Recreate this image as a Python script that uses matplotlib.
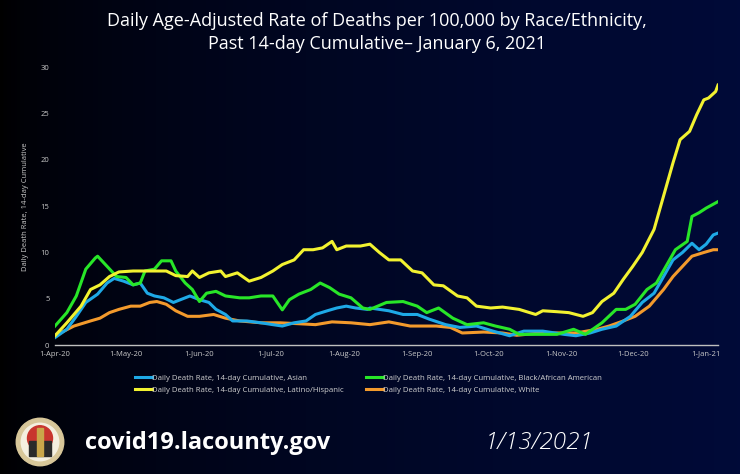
import numpy as np
import pandas as pd
import matplotlib
matplotlib.use("Agg")
import matplotlib.pyplot as plt
import matplotlib.dates as mdates
from matplotlib.patches import Circle, Rectangle

# Days since 1-Apr-2020 and rate values
asian_days = [0, 5, 9, 13, 18, 22, 25, 29, 33, 36, 39, 42, 46, 50, 53, 57, 61, 65, 68, 72, 75, 81, 87,
              92, 96, 101, 106, 110, 115, 119, 123, 127, 132, 133, 141, 147, 153, 158, 165, 171, 178,
              185, 192, 198, 206, 215, 220, 226, 231, 237, 243, 248, 253, 257, 261, 265, 269, 272, 275,
              278, 280]
asian_vals = [0.8, 1.7, 3.1, 4.6, 5.5, 6.7, 7.2, 6.9, 6.5, 6.7, 5.6, 5.3, 5.1, 4.6, 4.9, 5.3, 4.9, 4.6,
              3.85, 3.3, 2.6, 2.6, 2.4, 2.2, 2.05, 2.4, 2.6, 3.3, 3.7, 4.0, 4.2, 4.0, 3.85, 4.0, 3.7, 3.3,
              3.3, 2.8, 2.2, 1.9, 2.05, 1.5, 1.0, 1.5, 1.5, 1.15, 1.0, 1.3, 1.7, 2.05, 3.1, 4.6, 5.6, 7.4,
              9.2, 10.0, 11.0, 10.3, 10.9, 11.9, 12.1]

black_days = [0, 5, 9, 13, 17, 18, 22, 26, 30, 33, 36, 38, 42, 45, 49, 51, 55, 58, 61, 64, 68, 72, 78,
              82, 87, 92, 96, 99, 103, 108, 112, 116, 120, 125, 130, 133, 140, 147, 153, 157, 162, 168,
              174, 181, 186, 192, 196, 203, 212, 219, 224, 231, 237, 241, 245, 250, 254, 258, 262, 267,
              269, 272, 275, 280]
black_vals = [2.05, 3.5, 5.3, 8.2, 9.4, 9.6, 8.5, 7.4, 7.3, 6.5, 6.7, 8.0, 8.2, 9.1, 9.1, 8.0, 6.7, 6.0,
              4.7, 5.6, 5.8, 5.3, 5.1, 5.1, 5.3, 5.3, 3.8, 4.9, 5.5, 6.0, 6.7, 6.2, 5.5, 5.1, 4.0, 3.85,
              4.6, 4.7, 4.2, 3.5, 4.0, 2.9, 2.2, 2.4, 2.05, 1.7, 1.15, 1.15, 1.15, 1.7, 1.15, 2.4, 3.85,
              3.85, 4.4, 6.0, 6.7, 8.5, 10.3, 11.2, 13.9, 14.3, 14.8, 15.5]

latino_days = [0, 5, 11, 15, 19, 23, 27, 33, 40, 47, 51, 56, 58, 61, 65, 70, 72, 77, 82, 87, 92, 96,
               101, 105, 109, 113, 117, 119, 123, 129, 133, 137, 141, 146, 151, 155, 160, 164, 170, 174,
               178, 184, 189, 196, 203, 206, 212, 217, 223, 227, 231, 236, 240, 244, 248, 253, 257, 261,
               264, 268, 271, 274, 276, 279, 280]
latino_vals = [1.0, 2.4, 4.2, 6.0, 6.5, 7.4, 7.9, 8.0, 8.0, 8.0, 7.5, 7.4, 8.0, 7.3, 7.8, 8.0, 7.4,
               7.8, 6.9, 7.3, 8.0, 8.7, 9.2, 10.3, 10.3, 10.5, 11.2, 10.3, 10.7, 10.7, 10.9, 10.0, 9.2,
               9.2, 8.0, 7.8, 6.5, 6.4, 5.3, 5.1, 4.2, 4.0, 4.1, 3.85, 3.3, 3.7, 3.6, 3.5, 3.1, 3.5, 4.7,
               5.6, 7.1, 8.5, 10.0, 12.5, 16.1, 19.7, 22.2, 23.1, 24.9, 26.5, 26.7, 27.4, 28.1]

white_days = [0, 8, 15, 19, 23, 27, 32, 36, 40, 43, 47, 51, 56, 61, 67, 72, 78, 87, 95, 103, 110, 117,
              125, 133, 141, 150, 161, 167, 172, 181, 189, 195, 203, 212, 220, 229, 234, 240, 245, 251,
              257, 261, 265, 269, 274, 278, 280]
white_vals = [1.0, 2.05, 2.6, 2.9, 3.5, 3.85, 4.2, 4.2, 4.6, 4.7, 4.4, 3.7, 3.1, 3.1, 3.3, 2.9, 2.6,
              2.4, 2.4, 2.3, 2.2, 2.5, 2.4, 2.2, 2.5, 2.05, 2.05, 1.9, 1.3, 1.4, 1.3, 1.05, 1.25, 1.3,
              1.3, 1.7, 2.05, 2.6, 3.1, 4.2, 6.0, 7.4, 8.5, 9.6, 10.0, 10.3, 10.3]

labels = ["Daily Death Rate, 14-day Cumulative, Asian",
          "Daily Death Rate, 14-day Cumulative, Black/African American",
          "Daily Death Rate, 14-day Cumulative, Latino/Hispanic",
          "Daily Death Rate, 14-day Cumulative, White"]
colors = ["#1ea9e6", "#28e628", "#f2f230", "#f39a2c"]

start = pd.Timestamp("2020-04-01")

def to_dates(days):
    return start + pd.to_timedelta(days, unit="D")

plt.rcParams['font.family'] = ['Open Sans', 'DejaVu Sans']

fig = plt.figure(figsize=(7.4, 4.74), dpi=100)

# background gradient: black on the left, dark navy on the right
bg = fig.add_axes([0, 0, 1, 1], zorder=-10)
grad = np.linspace(0, 1, 256) ** 0.6
navy = np.array([0.0, 0.04, 0.22])
img = grad[None, :, None] * navy[None, None, :]
bg.imshow(img, aspect="auto", extent=[0, 1, 0, 1])
bg.axis("off")

ax = fig.add_axes([55 / 740, 129 / 474, 663 / 740, 277.5 / 474])
ax.set_facecolor("none")

series = [(asian_days, asian_vals), (black_days, black_vals),
          (latino_days, latino_vals), (white_days, white_vals)]
order = [3, 0, 1, 2]
lines = {}
for i in order:
    d, v = series[i]
    ln, = ax.plot(to_dates(d), v, color=colors[i], lw=2.2, label=labels[i])
    lines[i] = ln

ax.set_ylim(0, 30)
ax.set_yticks(range(0, 31, 5))
ax.set_xlim(to_dates([0])[0], to_dates([280])[0])
ax.xaxis.set_major_locator(mdates.MonthLocator())
ax.xaxis.set_major_formatter(mdates.DateFormatter("%-d-%b-%y"))
ax.tick_params(colors="#c8c8c8", labelsize=5.5, length=0, pad=4)
for s in ["top", "right", "left"]:
    ax.spines[s].set_visible(False)
ax.spines["bottom"].set_color("#bfbfbf")
ax.spines["bottom"].set_linewidth(1.0)
ax.set_ylabel("Daily Death Rate, 14-day Cumulative", color="#c8c8c8", fontsize=5.5, labelpad=8)

# legend filled column by column: Asian / Latino, then Black / White
leg_order = [0, 2, 1, 3]
leg = fig.legend([lines[i] for i in leg_order], [labels[i] for i in leg_order], ncol=2,
                 loc="center left", bbox_to_anchor=(128 / 740, 1 - 384 / 474), frameon=False,
                 fontsize=5.6, labelcolor="#d0d0d0", handlelength=2.2, handletextpad=0.0,
                 columnspacing=2.9, labelspacing=0.6)

fig.text(377 / 740, 1 - 21 / 474, "Daily Age-Adjusted Rate of Deaths per 100,000 by Race/Ethnicity,",
         color="white", fontsize=13, ha="center", va="center")
fig.text(377 / 740, 1 - 44 / 474, "Past 14-day Cumulative\u2013 January 6, 2021",
         color="white", fontsize=13, ha="center", va="center")

fig.text(85 / 740, 1 - 443 / 474, "covid19.lacounty.gov", color="white", fontsize=17,
         fontweight="bold", ha="left", va="center")
fig.text(539 / 740, 1 - 443 / 474, "1/13/2021", color="white", fontsize=17.5,
         fontstyle="italic", fontweight="light", ha="center", va="center")

# simple county seal
seal = fig.add_axes([15 / 740, 1 - 467 / 474, 50 / 740, 50 / 474])
seal.set_xlim(-1, 1)
seal.set_ylim(-1, 1)
seal.set_aspect("equal")
seal.axis("off")
seal.add_patch(Circle((0, 0), 0.95, color="#d8c79a"))
seal.add_patch(Circle((0, 0), 0.75, color="#f4efe0"))
seal.add_patch(Circle((0, 0.15), 0.5, color="#c8352e"))
seal.add_patch(Rectangle((-0.45, -0.55), 0.9, 0.6, color="#2a2a2a"))
seal.add_patch(Rectangle((-0.12, -0.55), 0.24, 1.1, color="#c9a64a"))

fig.savefig("out.png", dpi=100, facecolor="black")
